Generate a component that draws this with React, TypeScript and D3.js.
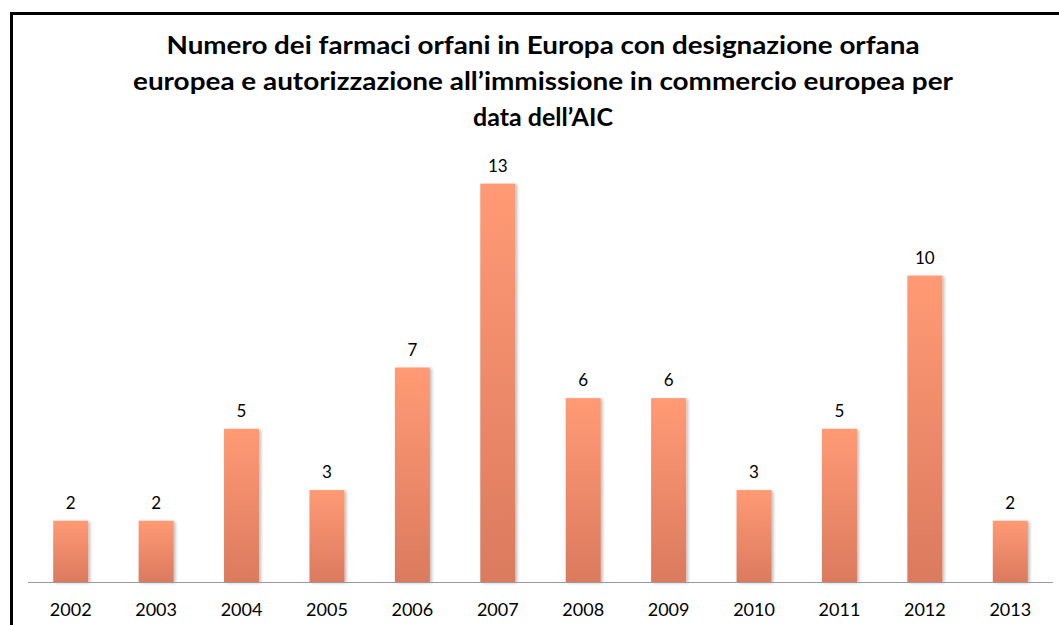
import React, { useEffect, useRef } from 'react';
import * as d3 from 'd3';

const years = ['2002', '2003', '2004', '2005', '2006', '2007', '2008', '2009', '2010', '2011', '2012', '2013'];
const counts = [2, 2, 5, 3, 7, 13, 6, 6, 3, 5, 10, 2];
const titleLines = [
  'Numero dei farmaci orfani in Europa con designazione orfana',
  'europea e autorizzazione all\u2019immissione in commercio europea per',
  'data dell\u2019AIC',
];
// widths the title lines take in the original
const titleWidths = [753, 820, 0];

const App: React.FC = () => {
  const svgRef = useRef<SVGSVGElement>(null);

  useEffect(() => {
    if (!svgRef.current) return;
    const svg = d3.select(svgRef.current);
    svg.selectAll('*').remove();

    const width = 1059;
    const height = 625;
    const plot = { left: 28, right: 1053, top: 153, bottom: 582 };

    // background + frame (frame runs off the right/bottom edge)
    svg.append('rect').attr('width', width).attr('height', height).attr('fill', '#fff');
    svg.append('rect')
      .attr('x', 11.5).attr('y', 13.5)
      .attr('width', 1200).attr('height', 800)
      .attr('fill', 'none').attr('stroke', '#000').attr('stroke-width', 3);

    const defs = svg.append('defs');
    const grad = defs.append('linearGradient')
      .attr('id', 'barGrad').attr('x1', 0).attr('y1', 0).attr('x2', 0).attr('y2', 1);
    grad.append('stop').attr('offset', '0%').attr('stop-color', '#ff9a74');
    grad.append('stop').attr('offset', '100%').attr('stop-color', '#db7a5e');

    const shadow = defs.append('filter').attr('id', 'barShadow')
      .attr('x', '-20%').attr('y', '-10%').attr('width', '150%').attr('height', '120%');
    shadow.append('feDropShadow')
      .attr('dx', 2).attr('dy', 1).attr('stdDeviation', 1.5)
      .attr('flood-color', '#000').attr('flood-opacity', 0.25);

    // title
    const title = svg.append('text')
      .attr('text-anchor', 'middle')
      .attr('font-family', 'Lato, sans-serif')
      .attr('font-weight', 'bold')
      .attr('font-size', 25)
      .attr('fill', '#000');
    titleLines.forEach((line, i) => {
      const t = title.append('tspan').attr('x', 543).attr('y', 54 + i * 36).text(line);
      if (titleWidths[i]) t.attr('textLength', titleWidths[i]).attr('lengthAdjust', 'spacingAndGlyphs');
    });

    const x = d3.scaleBand().domain(years).range([plot.left, plot.right]).paddingInner(0.59).paddingOuter(0.295);
    const y = d3.scaleLinear().domain([0, 14]).range([plot.bottom, plot.top]);

    svg.append('g')
      .selectAll('rect')
      .data(years)
      .enter().append('rect')
      .attr('x', d => x(d)!)
      .attr('y', (d, i) => y(counts[i]))
      .attr('width', x.bandwidth())
      .attr('height', (d, i) => y(0) - y(counts[i]))
      .attr('fill', 'url(#barGrad)')
      .attr('filter', 'url(#barShadow)');

    // baseline
    svg.append('line')
      .attr('x1', plot.left).attr('x2', plot.right)
      .attr('y1', y(0) + 0.5).attr('y2', y(0) + 0.5)
      .attr('stroke', '#9a9a9a').attr('stroke-width', 1);

    // value labels
    svg.append('g')
      .selectAll('text')
      .data(years)
      .enter().append('text')
      .attr('x', d => x(d)! + x.bandwidth() / 2)
      .attr('y', (d, i) => y(counts[i]) - 12)
      .attr('text-anchor', 'middle')
      .attr('font-family', 'Lato, sans-serif')
      .attr('font-size', 17)
      .attr('fill', '#000')
      .text((d, i) => counts[i]);

    // year labels
    svg.append('g')
      .selectAll('text')
      .data(years)
      .enter().append('text')
      .attr('x', d => x(d)! + x.bandwidth() / 2)
      .attr('y', 616)
      .attr('text-anchor', 'middle')
      .attr('font-family', 'Lato, sans-serif')
      .attr('font-size', 18)
      .attr('fill', '#000')
      .text(d => d);
  }, []);

  return (
    <svg
      ref={svgRef}
      width={1059}
      height={625}
      style={{ position: 'absolute', left: 0, top: 0, display: 'block' }}
    />
  );
};

export default App;
